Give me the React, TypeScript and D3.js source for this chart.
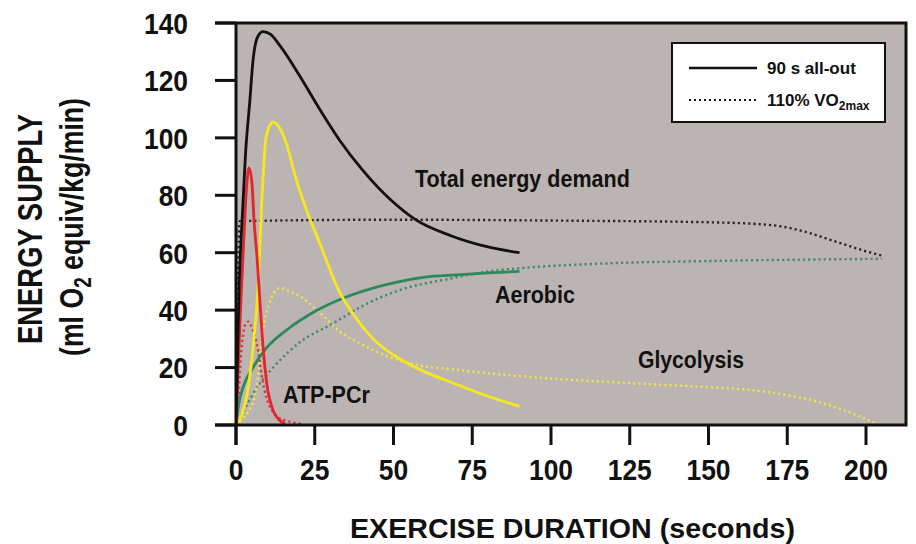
import React from 'react';
import * as d3 from 'd3';

// [seconds, ml O2 equiv/kg/min]
const totalAllOut: [number, number][] = [[0, 0], [0.5, 25], [1, 48], [1.5, 62], [2.2, 77], [3, 94], [4.4, 113], [5.4, 127], [7, 135.5], [8.6, 137], [11, 136], [14, 132], [20, 122], [26, 111], [33, 99], [40, 89], [49, 78.5], [57, 71.5], [68, 66], [80, 62], [90, 60]];
const total110: [number, number][] = [[0, 0], [1.2, 71], [50, 71.5], [100, 71.2], [150, 70.6], [170, 69.6], [180, 67.5], [190, 64], [200, 60.5], [205, 59]];
const glycAllOut: [number, number][] = [[0, 0], [2, 4], [4, 14], [5.5, 28], [7, 48], [8.2, 78], [9.5, 100], [11.7, 105.5], [13.5, 104], [16, 98], [19, 86], [22, 76], [26.7, 63], [33, 46], [37, 39], [43.5, 30], [52, 23], [60, 18.5], [68, 15], [80, 10], [90, 6.5]];
const glyc110: [number, number][] = [[0, 0], [2, 2], [4, 5], [6, 10], [7, 17], [8, 28], [9, 36], [10.5, 42], [12, 46], [14, 47.7], [17, 46.5], [20, 45], [26.7, 39], [33, 32.5], [39, 28.6], [48, 24], [57, 21], [68, 19.5], [85, 17.5], [100, 16.2], [118, 15], [135, 14], [150, 13.2], [165, 12], [175, 10.4], [185, 8], [192, 5.5], [198, 3], [204, 0]];
const atpAllOut: [number, number][] = [[0, 0], [0.7, 20], [1.5, 42], [2.5, 65], [3.3, 82], [4.1, 89.5], [5, 85], [5.8, 70], [6.7, 58], [7.6, 43], [8.6, 27], [9.7, 15], [11.8, 5], [13.5, 2], [15.5, 0.5]];
const atp110: [number, number][] = [[0, 0], [0.7, 8], [1.3, 20], [2.2, 31], [3.2, 35.5], [4, 36], [5, 34], [6, 31], [7, 26], [8.2, 17], [9.8, 9], [11.5, 5], [13, 3], [16, 1.5], [18.5, 0.8], [21, 0.3]];
const aerobicAllOut: [number, number][] = [[0, 0], [1, 8], [2.2, 13], [5.4, 20], [9.8, 27], [16, 33], [25, 39.5], [36, 45], [48, 49], [60, 51.5], [70, 52.3], [80, 53], [90, 53.5]];
const aerobic110: [number, number][] = [[0, 0], [2, 4], [6.6, 13], [11.8, 20], [20, 28.6], [31, 35.5], [39.4, 41], [52, 47], [68, 51], [80, 53.5], [90, 54.6], [118, 56.3], [150, 57.1], [180, 57.6], [205, 57.9]];

const xTicks = [0, 25, 50, 75, 100, 125, 150, 175, 200];
const yTicks = [0, 20, 40, 60, 80, 100, 120, 140];

const series = [
  { data: aerobic110, color: '#3f8b6c', dotted: true },
  { data: glyc110, color: '#efe24a', dotted: true },
  { data: atp110, color: '#d9343b', dotted: true },
  { data: total110, color: '#2a2424', dotted: true },
  { data: aerobicAllOut, color: '#2b8a5b', dotted: false },
  { data: glycAllOut, color: '#f6e81c', dotted: false },
  { data: atpAllOut, color: '#e5242c', dotted: false },
  { data: totalAllOut, color: '#111111', dotted: false },
];

// label anchor = left end of baseline, in data units
const labels = [
  { text: 'Total energy demand', t: 56.8, v: 82.9, len: 215 },
  { text: 'Aerobic', t: 82.2, v: 42.5, len: 80 },
  { text: 'Glycolysis', t: 127.6, v: 19.9, len: 106 },
  { text: 'ATP-PCr', t: 14.9, v: 7.7, len: 87 },
];

const W = 916, H = 544;
const left = 236, right = 906, top = 23, bottom = 425;
const font = 'Arial, "Liberation Sans", sans-serif';

const App = () => {
  const x = d3.scaleLinear().domain([0, 200]).range([left, 866]);
  const y = d3.scaleLinear().domain([0, 140]).range([bottom, top]);
  const line = d3.line<[number, number]>().x(d => x(d[0])).y(d => y(d[1])).curve(d3.curveMonotoneX);

  return (
    <svg width={W} height={H} style={{ position: 'absolute', left: 0, top: 0, background: '#fff' }} fontFamily={font} fontWeight="bold">
      <rect x={left} y={top} width={right - left} height={bottom - top} fill="#bcb4b2" />
      <defs>
        <clipPath id="plot"><rect x={left} y={top} width={right - left} height={bottom - top} /></clipPath>
      </defs>
      <g clipPath="url(#plot)">
        {series.map((s, i) => (
          <path key={i} d={line(s.data) || ''} fill="none" stroke={s.color}
            strokeWidth={s.dotted ? 2.4 : 2.8}
            strokeDasharray={s.dotted ? '2.2,3' : undefined} />
        ))}
      </g>
      {/* frame */}
      <path d={`M${left - 21},${top}H${right}V${bottom}H${left - 21}`} fill="none" stroke="#111" strokeWidth={3} />
      <line x1={left} x2={left} y1={top} y2={bottom + 20} stroke="#111" strokeWidth={3} />
      {yTicks.map(t => (
        <g key={t}>
          <line x1={left - 21} x2={left} y1={y(t)} y2={y(t)} stroke="#111" strokeWidth={3} />
          <text transform={`translate(188,${y(t)}) scale(0.88,1)`} dy="0.36em" textAnchor="end" fontSize={30} fill="#111">{t}</text>
        </g>
      ))}
      {xTicks.map(t => (
        <g key={t}>
          <line x1={x(t)} x2={x(t)} y1={bottom} y2={bottom + 20} stroke="#111" strokeWidth={3} />
          <text transform={`translate(${x(t)},480) scale(0.88,1)`} textAnchor="middle" fontSize={30} fill="#111">{t}</text>
        </g>
      ))}
      <text x={350} y={538} textLength={445} lengthAdjust="spacingAndGlyphs" fontSize={28} fill="#111">EXERCISE DURATION (seconds)</text>
      <text transform="translate(42,344) rotate(-90)" textLength={230} lengthAdjust="spacingAndGlyphs" fontSize={35} fill="#111">ENERGY SUPPLY</text>
      <text transform="translate(83,356) rotate(-90)" textLength={258} lengthAdjust="spacingAndGlyphs" fontSize={34} fill="#111">
        (ml O<tspan fontSize={24} dy={8}>2</tspan><tspan dy={-8}> equiv/kg/min)</tspan>
      </text>
      {labels.map(l => (
        <text key={l.text} x={x(l.t)} y={y(l.v)} textLength={l.len} lengthAdjust="spacingAndGlyphs" fontSize={23.5} fill="#111">{l.text}</text>
      ))}
      {/* legend */}
      <rect x={672} y={43} width={213} height={79} fill="#fff" stroke="#111" strokeWidth={2} />
      <line x1={689} x2={757} y1={68} y2={68} stroke="#111" strokeWidth={2.5} />
      <text x={767} y={74} fontSize={17} fill="#111">90 s all-out</text>
      <line x1={689} x2={757} y1={100} y2={100} stroke="#111" strokeWidth={2} strokeDasharray="2,3" />
      <text x={767} y={106} fontSize={17} fill="#111">110% VO<tspan fontSize={12} dy={4}>2max</tspan></text>
    </svg>
  );
};

export default App;
